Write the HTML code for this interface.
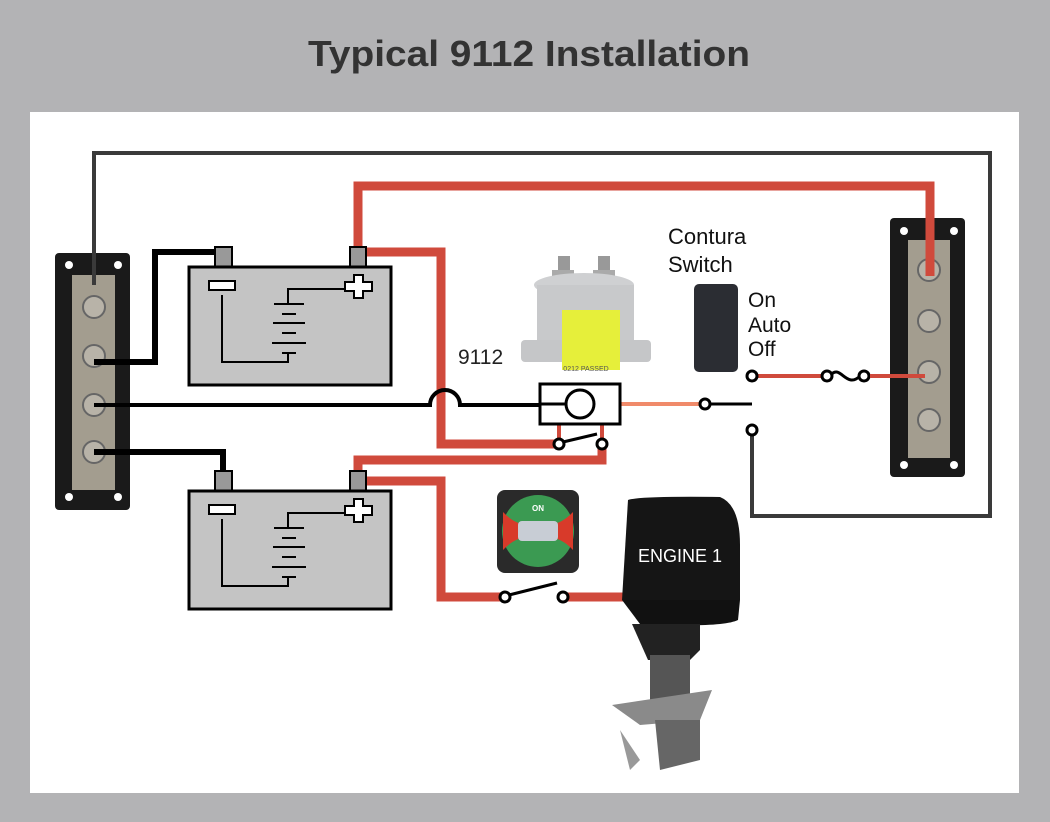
<!DOCTYPE html>
<html><head><meta charset="utf-8"><style>
html,body{margin:0;padding:0;background:#b3b3b5;}
svg{display:block}
</style></head><body>
<svg width="1050" height="822" viewBox="0 0 1050 822" xmlns="http://www.w3.org/2000/svg" font-family="Liberation Sans, sans-serif">
<rect x="0" y="0" width="1050" height="822" fill="#b3b3b5"/>
<text x="308" y="66" textLength="442" lengthAdjust="spacingAndGlyphs" font-size="36" font-weight="bold" fill="#333">Typical 9112 Installation</text>
<rect x="30" y="112" width="989" height="681" fill="#fff"/>

<polyline points="94,300 94,153 990,153 990,516 752,516 752,436" fill="none" stroke="#3a3a3a" stroke-width="4"/>

<polyline points="358,248 358,186 930,186 930,272" fill="none" stroke="#d04a3c" stroke-width="9"/>
<polyline points="366,252 441,252 441,444 556,444" fill="none" stroke="#d04a3c" stroke-width="9"/>
<polyline points="602,444 602,460 358,460 358,472" fill="none" stroke="#d04a3c" stroke-width="9"/>
<line x1="559" y1="425" x2="559" y2="444" stroke="#d04a3c" stroke-width="4"/>
<line x1="602" y1="425" x2="602" y2="444" stroke="#d04a3c" stroke-width="4"/>
<polyline points="366,481 441,481 441,597 505,597" fill="none" stroke="#d04a3c" stroke-width="9"/>
<line x1="563" y1="597" x2="630" y2="597" stroke="#d04a3c" stroke-width="9"/>

<polyline points="223,248 223,252 155,252 155,362 94,362" fill="none" stroke="#000" stroke-width="6"/>
<polyline points="94,452 223,452 223,472" fill="none" stroke="#000" stroke-width="6"/>
<path d="M94,405 L430,405 A15,15 0 0 1 460,405 L540,405" fill="none" stroke="#000" stroke-width="4"/>
<line x1="594" y1="404" x2="700" y2="404" stroke="#f08a6a" stroke-width="4"/>
<line x1="710" y1="404" x2="752" y2="404" stroke="#000" stroke-width="3"/>
<circle cx="705" cy="404" r="5" fill="#fff" stroke="#000" stroke-width="3"/>
<circle cx="752" cy="430" r="5" fill="#fff" stroke="#000" stroke-width="3"/>
<line x1="752" y1="376" x2="930" y2="376" stroke="#d04a3c" stroke-width="4"/>
<rect x="830" y="368" width="30" height="16" fill="#fff"/>
<path d="M830,376 C840,362 846,390 860,376" fill="none" stroke="#000" stroke-width="3"/>
<circle cx="752" cy="376" r="5" fill="#fff" stroke="#000" stroke-width="3"/>
<circle cx="827" cy="376" r="5" fill="#fff" stroke="#000" stroke-width="3"/>
<circle cx="864" cy="376" r="5" fill="#fff" stroke="#000" stroke-width="3"/>

<rect x="540" y="384" width="80" height="40" fill="#fff" stroke="#000" stroke-width="3"/>
<line x1="540" y1="404" x2="566" y2="404" stroke="#000" stroke-width="3"/>
<circle cx="580" cy="404" r="14" fill="#fff" stroke="#000" stroke-width="3"/>
<line x1="563" y1="442" x2="597" y2="434" stroke="#000" stroke-width="3"/>
<circle cx="559" cy="444" r="5" fill="#fff" stroke="#000" stroke-width="3"/>
<circle cx="602" cy="444" r="5" fill="#fff" stroke="#000" stroke-width="3"/>
<line x1="509" y1="595" x2="557" y2="583" stroke="#000" stroke-width="3"/>
<circle cx="505" cy="597" r="5" fill="#fff" stroke="#000" stroke-width="3"/>
<circle cx="563" cy="597" r="5" fill="#fff" stroke="#000" stroke-width="3"/>

<g>
<rect x="55" y="253" width="75" height="257" rx="4" fill="#1a1a1a"/>
<rect x="72" y="275" width="43" height="215" fill="#a39d8f"/>
<circle cx="69" cy="265" r="4" fill="#fff"/><circle cx="118" cy="265" r="4" fill="#fff"/>
<circle cx="69" cy="497" r="4" fill="#fff"/><circle cx="118" cy="497" r="4" fill="#fff"/>
<g fill="#b8b3a8" stroke="#666" stroke-width="2">
<circle cx="94" cy="307" r="11"/><circle cx="94" cy="356" r="11"/><circle cx="94" cy="405" r="11"/><circle cx="94" cy="452" r="11"/>
</g>
<line x1="94" y1="153" x2="94" y2="285" stroke="#3a3a3a" stroke-width="4"/>
<line x1="94" y1="362" x2="155" y2="362" stroke="#000" stroke-width="6"/>
<line x1="94" y1="405" x2="150" y2="405" stroke="#000" stroke-width="4"/>
<line x1="94" y1="452" x2="150" y2="452" stroke="#000" stroke-width="6"/>
</g>
<g>
<rect x="890" y="218" width="75" height="259" rx="4" fill="#1a1a1a"/>
<rect x="908" y="240" width="42" height="218" fill="#a39d8f"/>
<circle cx="904" cy="231" r="4" fill="#fff"/><circle cx="954" cy="231" r="4" fill="#fff"/>
<circle cx="904" cy="465" r="4" fill="#fff"/><circle cx="954" cy="465" r="4" fill="#fff"/>
<g fill="#b8b3a8" stroke="#666" stroke-width="2">
<circle cx="929" cy="270" r="11"/><circle cx="929" cy="321" r="11"/><circle cx="929" cy="372" r="11"/><circle cx="929" cy="420" r="11"/>
</g>
<line x1="930" y1="186" x2="930" y2="276" stroke="#d04a3c" stroke-width="9"/>
<line x1="870" y1="376" x2="925" y2="376" stroke="#d04a3c" stroke-width="4"/>
</g>

<g id="b1">
<rect x="215" y="247" width="17" height="20" fill="#999" stroke="#000" stroke-width="2"/>
<rect x="350" y="247" width="16" height="20" fill="#999" stroke="#000" stroke-width="2"/>
<rect x="189" y="267" width="202" height="118" fill="#c4c4c4" stroke="#000" stroke-width="3"/>
<rect x="209" y="281" width="26" height="9" fill="#fff" stroke="#000" stroke-width="2"/>
<path d="M345,282 h9 v-7 h9 v7 h9 v9 h-9 v7 h-9 v-7 h-9 z" fill="#fff" stroke="#000" stroke-width="2"/>
<polyline points="345,289 288,289 288,303" fill="none" stroke="#000" stroke-width="2"/>
<g stroke="#000" stroke-width="2"><line x1="274" y1="304" x2="304" y2="304"/><line x1="282" y1="314" x2="296" y2="314"/><line x1="273" y1="323" x2="305" y2="323"/><line x1="282" y1="333" x2="296" y2="333"/><line x1="272" y1="343" x2="306" y2="343"/><line x1="282" y1="353" x2="296" y2="353"/></g>
<polyline points="222,295 222,362 288,362 288,353" fill="none" stroke="#000" stroke-width="2"/>
</g>
<use href="#b1" transform="translate(0,224)"/>

<g>
<rect x="558" y="256" width="12" height="20" fill="#999"/>
<rect x="598" y="256" width="12" height="20" fill="#999"/>
<rect x="552" y="270" width="22" height="14" fill="#aaa"/><rect x="593" y="270" width="22" height="14" fill="#aaa"/>
<ellipse cx="584" cy="285" rx="50" ry="12" fill="#cfd0d2"/>
<rect x="537" y="285" width="97" height="60" fill="#c8c9cb"/>
<rect x="521" y="340" width="130" height="22" rx="4" fill="#c5c6c8"/>
<rect x="562" y="310" width="58" height="60" fill="#e6ef3a"/>
<text x="586" y="371" font-size="7" fill="#555" text-anchor="middle">0212 PASSED</text>
</g>

<rect x="694" y="284" width="44" height="88" rx="5" fill="#2b2d33"/>
<text x="668" y="244" font-size="22" fill="#111">Contura</text>
<text x="668" y="272" font-size="22" fill="#111">Switch</text>
<text x="748" y="307" font-size="21" fill="#111">On</text>
<text x="748" y="332" font-size="21" fill="#111">Auto</text>
<text x="748" y="356" font-size="21" fill="#111">Off</text>
<text x="458" y="364" font-size="21" fill="#222">9112</text>

<g>
<rect x="497" y="490" width="82" height="83" rx="8" fill="#2a2a2a"/>
<circle cx="538" cy="531" r="36" fill="#3b9a52"/>
<path d="M503,512 Q520,530 538,522 Q556,530 573,512 L573,550 Q556,532 538,540 Q520,532 503,550 Z" fill="#d83a2a"/>
<rect x="518" y="521" width="40" height="20" rx="4" fill="#c8cdd5"/>
<text x="538" y="511" font-size="8" font-weight="bold" fill="#fff" text-anchor="middle">ON</text>
</g>

<g>
<path d="M628,500 Q640,496 720,497 Q740,505 740,545 L740,600 L622,600 Z" fill="#151515"/>
<path d="M622,600 L740,600 L738,620 Q722,628 640,624 Z" fill="#111"/>
<path d="M632,624 L700,624 L700,650 L690,660 L648,660 Z" fill="#222"/>
<rect x="650" y="655" width="40" height="45" fill="#555"/>
<path d="M612,705 L712,690 L700,720 L640,725 Z" fill="#8a8a8a"/>
<path d="M655,720 L700,720 L700,760 L660,770 Z" fill="#666"/>
<path d="M620,730 L640,760 L630,770 Z" fill="#999"/>
<text x="680" y="562" font-size="18" fill="#fff" text-anchor="middle">ENGINE 1</text>
</g>
</svg>
</body></html>
